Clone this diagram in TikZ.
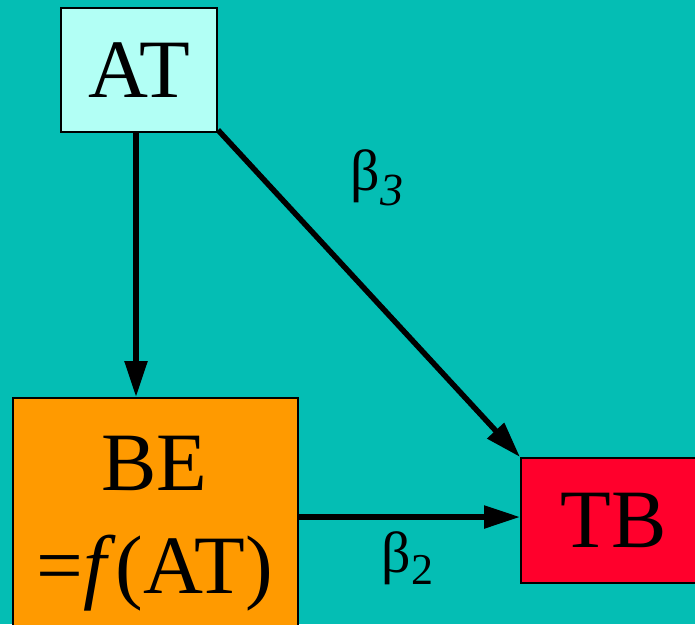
\documentclass[tikz,border=0pt]{standalone}
\usepackage{fontspec}
\setmainfont{Liberation Serif}
\usetikzlibrary{arrows.meta}
\definecolor{bgteal}{RGB}{4,190,180}
\definecolor{atfill}{RGB}{178,255,245}
\definecolor{befill}{RGB}{255,154,0}
\definecolor{tbfill}{RGB}{255,0,44}
\tikzset{
  box/.style={draw=black, line width=2pt, inner sep=0pt, align=center, font=\fontsize{83}{103}\selectfont},
  conn/.style={line width=5.5pt, -{Triangle[length=36pt,width=22pt]}},
  blabel/.style={inner sep=0pt, font=\fontsize{58}{58}\selectfont}
}
\begin{document}
\begin{tikzpicture}[x=1pt,y=-1pt]
\fill[bgteal] (0,0) rectangle (695,624);
\useasboundingbox (0,0) rectangle (695,624);
\node[box, fill=atfill, minimum width=156pt, minimum height=124pt] (at) at (139,70) {AT};
\node[box, fill=befill, minimum width=285pt, minimum height=232pt, anchor=north west] (be) at (12,397) {};
\node[font=\fontsize{83}{103}\selectfont, align=center, inner sep=0pt, anchor=base] (betext) at (154.5,593) {BE\\=\textit{f}(AT)};
\node[box, fill=tbfill, minimum width=185pt, minimum height=125pt, anchor=north west] (tb) at (520,457) {TB};
\draw[conn] (at.south -| 136,0) -- (be.north -| 136,0);
\draw[conn] (at.south east) ++(0,-3) coordinate (d1) -- (tb.north west);
\draw[conn] (be.east |- 0,517) -- (tb.west |- 0,517);
\node[blabel, anchor=base west] (b3) at (350,190) {β\hspace{1pt}\raisebox{-0.26em}{\fontsize{46}{46}\selectfont\textit{3}}};
\node[blabel, anchor=base west] (b2) at (381,572) {β\hspace{1pt}\raisebox{-0.22em}{\fontsize{44}{44}\selectfont 2}};
\end{tikzpicture}
\end{document}
